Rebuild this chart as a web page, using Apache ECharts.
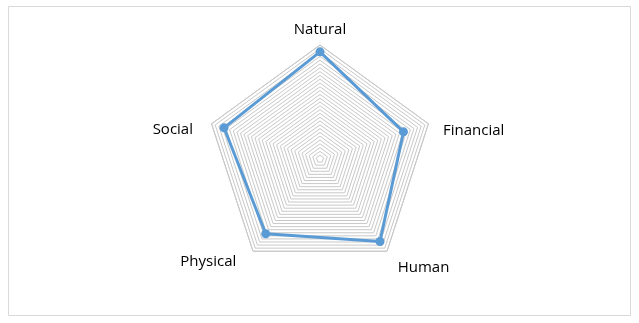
<!DOCTYPE html>
<html>
<head>
<meta charset="utf-8">
<script src="https://cdn.jsdelivr.net/npm/echarts@6/dist/echarts.min.js"></script>
<style>
html,body{margin:0;padding:0;background:#fff;}
#chart{width:639px;height:323px;}
</style>
</head>
<body>
<div id="chart"></div>
<script>
// Categories in clockwise order starting at the top
const categories = ['Natural', 'Financial', 'Human', 'Physical', 'Social'];
const values = [0.94, 0.77, 0.895, 0.81, 0.885];
const axisMax = 1;
const ringCount = 30;

// ECharts radar runs counter-clockwise; reorder so the picture runs clockwise
const order = [0].concat(categories.map((_, i) => i).slice(1).reverse());
const indicators = order.map(i => ({name: categories[i], max: axisMax, min: 0}));
const seriesValues = order.map(i => values[i]);

// label nudges (Excel puts labels a bit lower than ECharts does)
const labelStyles = {
  Natural:   {padding: [0, 0, 0, 0]},
  Financial: {padding: [19, 0, 0, 7]},
  Human:     {padding: [21, 0, 0, 6]},
  Physical:  {padding: [9, 12, 0, 0]},
  Social:    {padding: [17, 11, 0, 0]}
};
const rich = {};
categories.forEach((c, i) => {
  rich['k' + i] = Object.assign({
    color: '#000000', fontFamily: 'Open Sans', fontSize: 15
  }, labelStyles[c]);
});

const chart = echarts.init(document.getElementById('chart'), null, {renderer: 'canvas'});
chart.setOption({
  animation: false,
  backgroundColor: '#ffffff',
  graphic: [{
    type: 'rect',
    shape: {x: 8.5, y: 6.5, width: 622, height: 309},
    style: {fill: 'none', stroke: '#d9d9d9', lineWidth: 1},
    silent: true
  }],
  radar: {
    center: [320, 159],
    radius: 114,
    startAngle: 90,
    splitNumber: ringCount,
    shape: 'polygon',
    nameGap: 8,
    indicator: indicators,
    axisName: {
      color: '#000000',
      fontFamily: 'Open Sans',
      fontSize: 15,
      formatter: function (name) {
        return '{k' + categories.indexOf(name) + '|' + name + '}';
      },
      rich: rich
    },
    axisLine: {show: false},
    axisTick: {show: false},
    axisLabel: {show: false},
    splitArea: {show: false},
    splitLine: {lineStyle: {color: '#c8c8c8', width: 1}}
  },
  series: [{
    type: 'radar',
    symbol: 'circle',
    symbolSize: 9,
    lineStyle: {color: '#5b9bd5', width: 3},
    itemStyle: {color: '#5b9bd5'},
    data: [{value: seriesValues}]
  }]
});
</script>
</body>
</html>
